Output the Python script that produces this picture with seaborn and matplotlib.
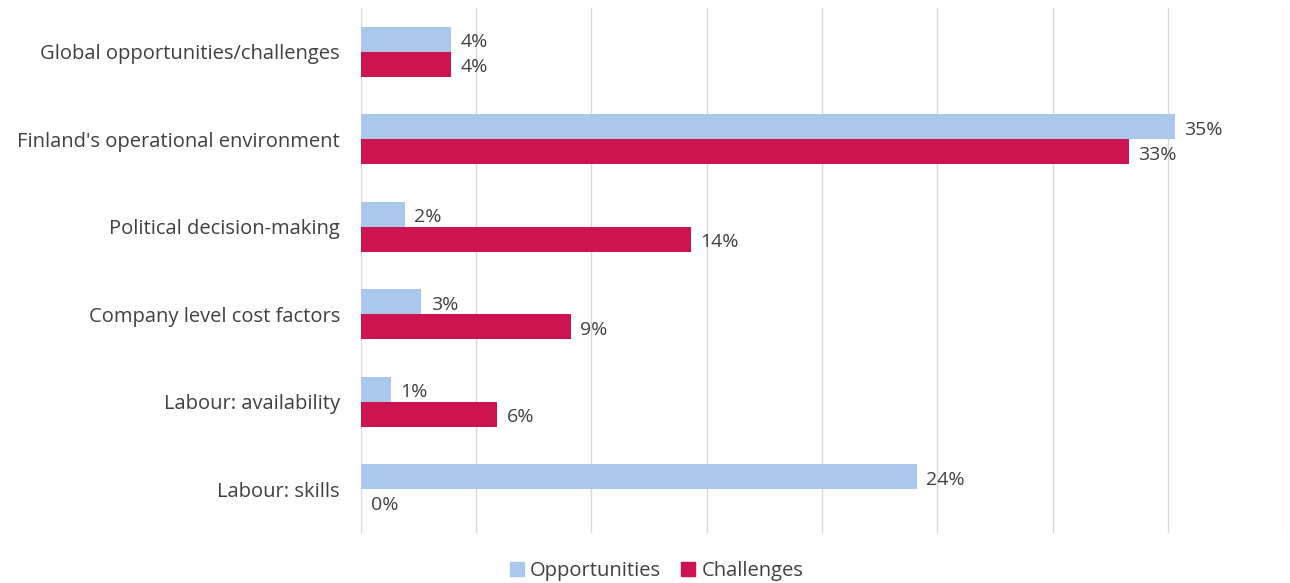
import numpy as np
import pandas as pd
import matplotlib.pyplot as plt
import seaborn as sns

# === DATA ===
categories = [
    "Global opportunities/challenges",
    "Finland's operational environment",
    "Political decision-making",
    "Company level cost factors",
    "Labour: availability",
    "Labour: skills",
]
opportunities = [3.9, 35.3, 1.9, 2.6, 1.3, 24.1]
challenges = [3.9, 33.3, 14.3, 9.1, 5.9, 0.0]
series_names = ["Opportunities", "Challenges"]

df = pd.DataFrame({
    "category": categories * 2,
    "value": opportunities + challenges,
    "series": [series_names[0]] * len(categories) + [series_names[1]] * len(categories),
})

# === STYLE ===
sns.set_theme(style="white")
plt.rcParams["font.family"] = ["Open Sans", "DejaVu Sans"]
text_color = "#404040"
palette = {"Opportunities": "#A9C8EC", "Challenges": "#CC1450"}

fig = plt.figure(figsize=(12.9, 5.83), dpi=100)
ax = fig.add_axes([0.2798, 0.0858, 0.7148, 0.9005])

sns.barplot(data=df, y="category", x="value", hue="series", palette=palette,
            orient="h", width=0.57, ax=ax, legend=False, saturation=1, linewidth=0)

# value labels, nudged a little below bar centre like the original
for container in ax.containers:
    anns = ax.bar_label(container, fmt="%.0f%%", padding=7, fontsize=14, color=text_color)
    for a in anns:
        a.xyann = (a.xyann[0], -2.2)

ax.set_xlim(0, 40)
ax.set_ylim(5.5, -0.5)
ax.set_xticks(np.arange(0, 41, 5))
ax.set_xticklabels([])
ax.grid(axis="x", color="#D9D9D9", linewidth=1)
ax.set_axisbelow(True)
for s in ax.spines.values():
    s.set_visible(False)
ax.tick_params(axis="y", length=0, pad=15, labelsize=14.5, labelcolor=text_color)
ax.tick_params(axis="x", length=0)
ax.set_xlabel("")
ax.set_ylabel("")

handles = [plt.Rectangle((0, 0), 1, 1, color=palette[n]) for n in series_names]
fig.legend(handles, series_names, loc="lower center", bbox_to_anchor=(0.509, -0.028),
           ncol=2, frameon=False, fontsize=14.5, labelcolor=text_color,
           handlelength=0.7, handleheight=0.7, handletextpad=0.3, columnspacing=1.0)

plt.savefig("out.png", dpi=100)
